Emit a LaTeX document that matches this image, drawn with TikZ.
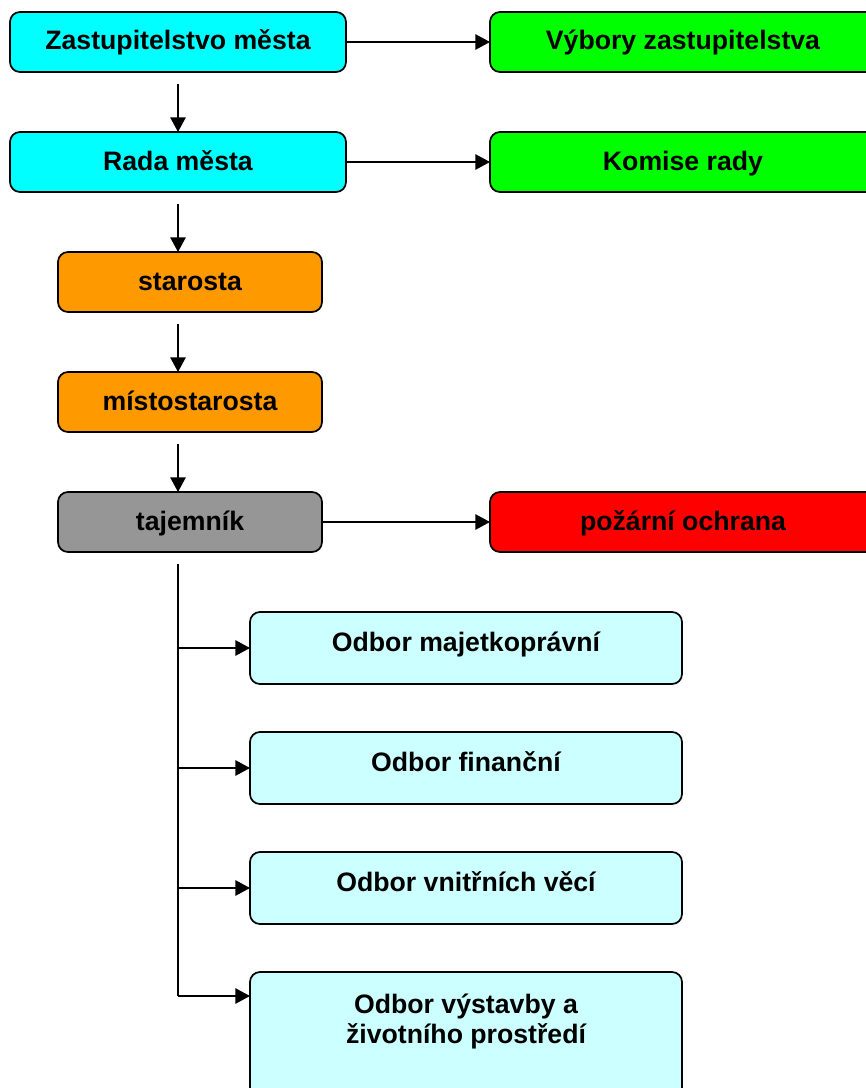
\documentclass[tikz,border=0pt]{standalone}
\usepackage{fontspec}
\setmainfont{Liberation Sans}
\usepackage{tikz}
\usetikzlibrary{positioning,arrows.meta,calc}

\definecolor{zastcyan}{HTML}{00FFFF}
\definecolor{vybgreen}{HTML}{00FF00}
\definecolor{staroorange}{HTML}{FF9900}
\definecolor{tajgrey}{HTML}{969696}
\definecolor{pozarred}{HTML}{FF0000}
\definecolor{odborcyan}{HTML}{CCFFFF}

\tikzset{
    orgbox/.style={draw, line width=1.3pt, rounded corners=7.5pt, align=center, outer sep=0pt,
        font=\bfseries\fontsize{20}{22.5}\selectfont, minimum height=45pt,
        text height=14pt, text depth=2pt},
    topbox/.style={orgbox, fill=zastcyan, minimum width=252pt},
    sidebox/.style={orgbox, fill=#1, minimum width=289.5pt},
    headbox/.style={orgbox, fill=#1, minimum width=198pt},
    odborbox/.style={orgbox, fill=odborcyan, minimum width=324pt, minimum height=54pt, text depth=9.5pt},
    link/.style={line width=1.3pt, -{Triangle[length=11pt,width=11.5pt]}}
}

\begin{document}
\begin{tikzpicture}
        \useasboundingbox (0,0) rectangle (649.5pt,-816pt);
        \clip (0,0) rectangle (649.5pt,-816pt);
        \node [topbox, anchor=north west] (zast) at (7.5pt,-9pt) {Zastupitelstvo města}; % top left box
        \node [sidebox=vybgreen, right=108pt of zast] (vybory) {Výbory zastupitelstva}; % green, cut at right edge
        \node [topbox, below=45pt of zast] (rada) {Rada města};
        \node [sidebox=vybgreen, right=108pt of rada] (komise) {Komise rady};
        \node [headbox=staroorange, below right=45pt and 36pt of rada.south west] (staro) {starosta}; % shifted right of rada
        \node [headbox=staroorange, below=45pt of staro] (misto) {místostarosta};
        \node [headbox=tajgrey, below=45pt of misto] (taj) {tajemník};
        \node [sidebox=pozarred, right=126pt of taj] (pozar) {požární ochrana}; % lines up with vybory
        \node [odborbox, below right=45pt and 144pt of taj.south west] (maj) {Odbor majetkoprávní};
        \node [odborbox, below=36pt of maj] (fin) {Odbor finanční};
        \node [odborbox, below=36pt of fin] (vnitr) {Odbor vnitřních věcí};
        \node [odborbox, text height=50pt, text depth=80pt, below=36pt of vnitr] (vyst) {Odbor výstavby a\\životního prostředí}; % runs off the bottom
        \coordinate (vystin) at ($(vyst.north west)+(0,-18pt)$); % branch end on last box
        % vertical chain
        \draw [link, shorten <=9pt] (zast.south) -- (rada.north);
        \draw [link, shorten <=9pt] (rada.south) -- (rada.south |- staro.north);
        \draw [link, shorten <=9pt] (rada.south |- staro.south) -- (rada.south |- misto.north);
        \draw [link, shorten <=9pt] (rada.south |- misto.south) -- (rada.south |- taj.north);
        % side arrows
        \draw [link] (zast.east) -- (vybory.west);
        \draw [link] (rada.east) -- (komise.west);
        \draw [link] (taj.east) -- (pozar.west);
        % trunk down to the odbory
        \draw [line width=1.3pt, shorten <=9pt] (rada.south |- taj.south) -- (rada.south |- vystin);
        \foreach \o in {maj,fin,vnitr}
            \draw [link] (rada.south |- \o.west) -- (\o.west);
        \draw [link] (rada.south |- vystin) -- (vystin);
\end{tikzpicture}
\end{document}
